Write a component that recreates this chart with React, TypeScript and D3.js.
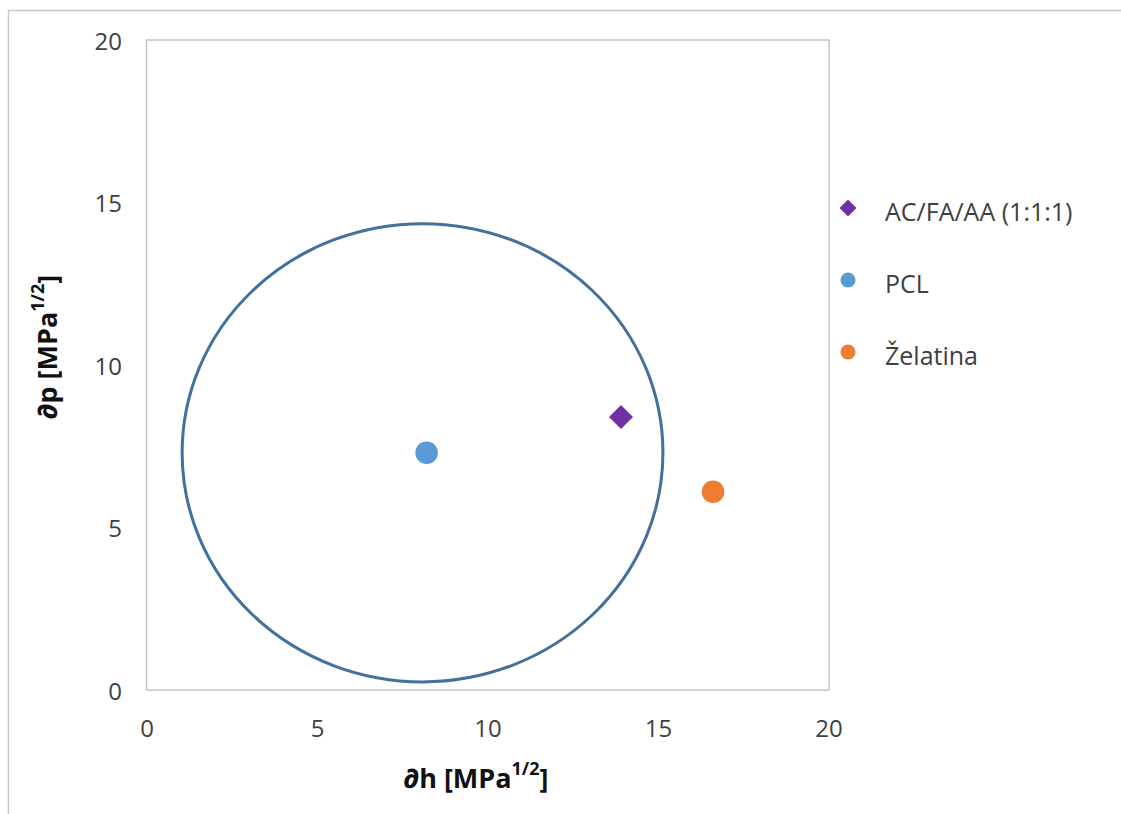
import React from "react";
import * as d3 from "d3";

// Hansen solubility parameters (dh, dp) in MPa^1/2
const seriesNames = ["AC/FA/AA (1:1:1)", "PCL", "Želatina"];
const dhValues = [13.9, 8.2, 16.6];
const dpValues = [8.4, 7.3, 6.1];
const seriesColors = ["#7030a0", "#5b9bd5", "#ed7d31"];
const seriesShapes = ["diamond", "circle", "circle"];

// solubility sphere of PCL (center dh, center dp, radius)
const sphereCenter = [8.08, 7.3];
const sphereRadius = 7.05;

const ticks = [0, 5, 10, 15, 20];

const W = 1121;
const H = 814;
const margin = { left: 147, top: 40, right: 829, bottom: 690 };
const font = "'Open Sans', 'Liberation Sans', sans-serif";

const Marker = ({ shape, x, y, size, color }) => {
  if (shape === "diamond") {
    return (
      <path
        d={`M${x},${y - size}L${x + size},${y}L${x},${y + size}L${x - size},${y}Z`}
        fill={color}
      />
    );
  }
  return <circle cx={x} cy={y} r={size} fill={color} />;
};

const App = () => {
  const x = d3.scaleLinear().domain([0, 20]).range([margin.left, margin.right]);
  const y = d3.scaleLinear().domain([0, 20]).range([margin.bottom, margin.top]);

  const legendY = d3.scalePoint().domain(seriesNames).range([208, 352]);

  return (
    <svg
      width={W}
      height={H}
      style={{ position: "absolute", left: 0, top: 0, background: "#fff" }}
      fontFamily={font}
    >
      {/* chart frame */}
      <rect x={8.5} y={10.5} width={W + 10} height={H + 10} fill="#fff" stroke="#c8c8c8" strokeWidth={1.5} />

      {/* plot area */}
      <rect
        x={margin.left - 0.5}
        y={margin.top}
        width={margin.right - margin.left + 0.5}
        height={margin.bottom - margin.top}
        fill="none"
        stroke="#c4c4c4"
        strokeWidth={1.5}
      />

      {/* y tick labels */}
      {ticks.map((t) => (
        <text key={"y" + t} x={122} y={y(t)} textAnchor="end" dominantBaseline="central" fontSize={24} fill="#404040">
          {t}
        </text>
      ))}
      {/* x tick labels */}
      {ticks.map((t) => (
        <text key={"x" + t} x={x(t)} y={727} textAnchor="middle" dominantBaseline="central" fontSize={24} fill="#404040">
          {t}
        </text>
      ))}

      {/* axis titles */}
      <text x={476} y={777} textAnchor="middle" dominantBaseline="central" fontSize={27} fontWeight="bold" fill="#111">
        ∂h [MPa<tspan dy={-9} fontSize={18}>1/2</tspan>
        <tspan dy={9}>]</tspan>
      </text>
      <text
        transform={`translate(46,${347}) rotate(-90)`}
        textAnchor="middle"
        dominantBaseline="central"
        fontSize={27}
        fontWeight="bold"
        fill="#111"
      >
        ∂p [MPa<tspan dy={-9} fontSize={18}>1/2</tspan>
        <tspan dy={9}>]</tspan>
      </text>

      {/* solubility sphere */}
      <ellipse
        cx={x(sphereCenter[0])}
        cy={y(sphereCenter[1])}
        rx={x(sphereCenter[0] + sphereRadius) - x(sphereCenter[0])}
        ry={y(sphereCenter[1]) - y(sphereCenter[1] + sphereRadius)}
        fill="none"
        stroke="#41719c"
        strokeWidth={3}
      />

      {/* points */}
      {seriesNames.map((name, i) => (
        <Marker
          key={name}
          shape={seriesShapes[i]}
          x={x(dhValues[i])}
          y={y(dpValues[i])}
          size={seriesShapes[i] === "diamond" ? 12 : 11.3}
          color={seriesColors[i]}
        />
      ))}

      {/* legend */}
      {seriesNames.map((name, i) => (
        <g key={"lg" + name}>
          <Marker
            shape={seriesShapes[i]}
            x={848}
            y={legendY(name)}
            size={seriesShapes[i] === "diamond" ? 8.5 : 7.5}
            color={seriesColors[i]}
          />
          <text x={885} y={legendY(name) + 3} dominantBaseline="central" fontSize={25} fill="#404040">
            {name}
          </text>
        </g>
      ))}
    </svg>
  );
};

export default App;
